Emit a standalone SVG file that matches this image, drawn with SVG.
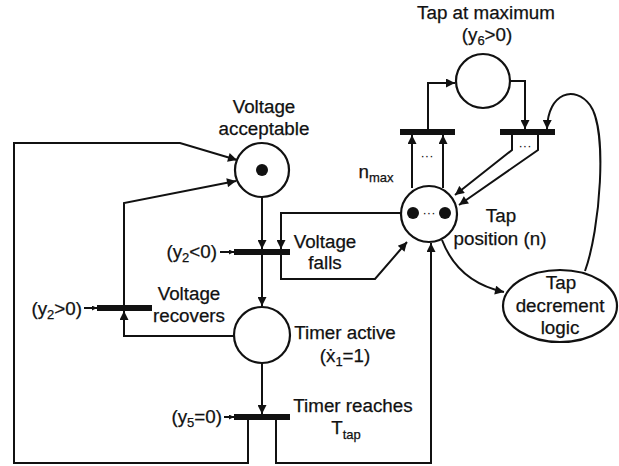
<svg xmlns="http://www.w3.org/2000/svg" width="619" height="466" viewBox="0 0 619 466">
<style>
text{font-family:"Liberation Sans","DejaVu Sans",Arial,sans-serif;font-size:18.8px;fill:#111;text-anchor:middle;stroke:#111;stroke-width:0.25}
.sub{font-size:13px}
.r{text-anchor:end}
.dots{font-size:13px;stroke:none}
.ln{fill:none;stroke:#111;stroke-width:2}
.pl{fill:#fff;stroke:#111;stroke-width:2.2}
.bar{fill:#111}
.tok{fill:#111}
</style>
<defs>
<marker id="a" viewBox="0 0 10 10" refX="10" refY="5" markerWidth="11" markerHeight="9" markerUnits="userSpaceOnUse" orient="auto"><path d="M0,0 L10,5 L0,10 z" fill="#111"/></marker>
<marker id="s" viewBox="0 0 10 10" refX="10" refY="5" markerWidth="6" markerHeight="5" markerUnits="userSpaceOnUse" orient="auto"><path d="M0,0 L10,5 L0,10 z" fill="#111"/></marker>
</defs>
<rect width="619" height="466" fill="#fff"/>
<g id="connectors">
<path class="ln" d="M248,419 V463 H14 V143 H180 L237,160" marker-end="url(#a)"/>
<path class="ln" d="M124,306 V203 L236,181" marker-end="url(#a)"/>
<path class="ln" d="M262,197 V249" marker-end="url(#a)"/>
<path class="ln" d="M401,213 H281 V249" marker-end="url(#a)"/>
<path class="ln" d="M281,255 V279 H375 L407,242" marker-end="url(#a)"/>
<path class="ln" d="M262,255 V306" marker-end="url(#a)"/>
<path class="ln" d="M234,336 H124 V311" marker-end="url(#a)"/>
<path class="ln" d="M262,363 V414" marker-end="url(#a)"/>
<path class="ln" d="M276,419 V463 H431 V243" marker-end="url(#a)"/>
<path class="ln" d="M412,188 V135" marker-end="url(#a)"/>
<path class="ln" d="M443,188 V135" marker-end="url(#a)"/>
<path class="ln" d="M428,129 V83 H455" marker-end="url(#a)"/>
<path class="ln" d="M510,81 H525 V129" marker-end="url(#a)"/>
<path class="ln" d="M512,135 V150 L455,195" marker-end="url(#a)"/>
<path class="ln" d="M538,135 V150 L459,205" marker-end="url(#a)"/>
<path class="ln" d="M442,240 Q458,282 504,292" marker-end="url(#a)"/>
<path class="ln" d="M585,271 C600,230 608,130 590,105 C575,85 548,92 547,129" marker-end="url(#a)"/>
<path class="ln" d="M220,252 H234" marker-end="url(#s)"/>
<path class="ln" d="M84,308 H97" marker-end="url(#s)"/>
<path class="ln" d="M224,417 H234" marker-end="url(#s)"/>
</g>
<g id="voltage-acceptable">
<circle class="pl" cx="262" cy="170" r="27"/>
<circle class="tok" cx="262" cy="170" r="6"/>
<text x="264" y="113">Voltage</text>
<text x="264" y="135">acceptable</text>
</g>
<g id="voltage-falls">
<rect class="bar" x="234" y="249" width="56" height="6"/>
<text class="r" x="217" y="258">(y<tspan class="sub" dy="4">2</tspan><tspan dy="-4">&lt;0)</tspan></text>
<text x="325" y="248">Voltage</text>
<text x="325" y="269">falls</text>
</g>
<g id="voltage-recovers">
<rect class="bar" x="97" y="305" width="55" height="6"/>
<text class="r" x="82" y="315">(y<tspan class="sub" dy="4">2</tspan><tspan dy="-4">&gt;0)</tspan></text>
<text x="189" y="300">Voltage</text>
<text x="189" y="322">recovers</text>
</g>
<g id="timer-active">
<circle class="pl" cx="262" cy="335" r="28"/>
<text x="345" y="339">Timer active</text>
<text x="345" y="362">(ẋ<tspan class="sub" dy="4">1</tspan><tspan dy="-4">=1)</tspan></text>
</g>
<g id="timer-reaches">
<rect class="bar" x="234" y="414" width="56" height="6"/>
<text class="r" x="222" y="423">(y<tspan class="sub" dy="4">5</tspan><tspan dy="-4">=0)</tspan></text>
<text x="353" y="412">Timer reaches</text>
<text x="346" y="434">T<tspan class="sub" dy="5">tap</tspan></text>
</g>
<g id="tap-position">
<circle class="pl" cx="429" cy="214" r="28"/>
<circle class="tok" cx="413" cy="213" r="6"/>
<circle class="tok" cx="445" cy="213" r="6"/>
<text class="dots" x="429" y="217">···</text>
<text x="501" y="222">Tap</text>
<text x="500" y="245">position (n)</text>
</g>
<g id="tap-max-up">
<rect class="bar" x="400" y="129" width="55" height="6"/>
<text class="dots" x="427" y="160">···</text>
<text x="376" y="178">n<tspan class="sub" dy="4">max</tspan></text>
</g>
<g id="tap-at-maximum">
<circle class="pl" cx="483" cy="81" r="27"/>
<text x="486" y="19">Tap at maximum</text>
<text x="487" y="41">(y<tspan class="sub" dy="4">6</tspan><tspan dy="-4">&gt;0)</tspan></text>
</g>
<g id="tap-max-down">
<rect class="bar" x="500" y="129" width="55" height="6"/>
<text class="dots" x="525" y="150">···</text>
</g>
<g id="tap-decrement-logic">
<ellipse class="pl" cx="560" cy="306" rx="57" ry="36"/>
<text x="561" y="289">Tap</text>
<text x="560" y="312">decrement</text>
<text x="560" y="334">logic</text>
</g>
</svg>
